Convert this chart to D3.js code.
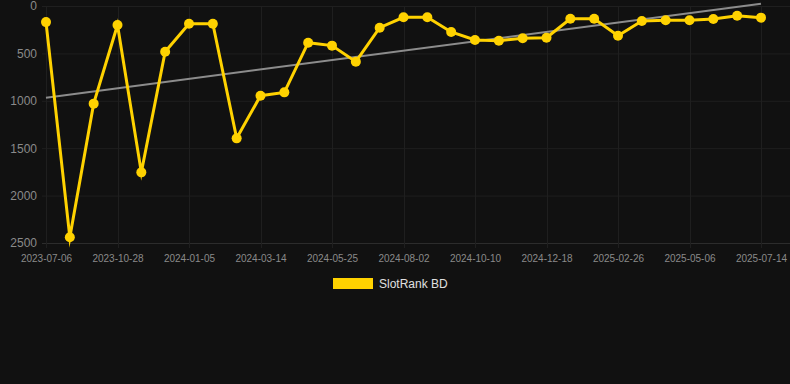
<!DOCTYPE html>
<html>
<head>
<meta charset="utf-8">
<script src="https://cdn.jsdelivr.net/npm/d3@7"></script>
<style>
    html, body { margin: 0; padding: 0; background: #111111; }
    svg { display: block; font-family: Arial, "Liberation Sans", sans-serif; }
</style>
</head>
<body>
<svg id="chart"></svg>
<script>
// Categories (every third one is labelled on the axis)
const dates = [
    '2023-07-06', '2023-08-13', '2023-09-20', '2023-10-28', '2023-11-20', '2023-12-13',
    '2024-01-05', '2024-01-28', '2024-02-20', '2024-03-14', '2024-04-07', '2024-05-01',
    '2024-05-25', '2024-06-17', '2024-07-10', '2024-08-02', '2024-08-25', '2024-09-17',
    '2024-10-10', '2024-11-02', '2024-11-25', '2024-12-18', '2025-01-10', '2025-02-03',
    '2025-02-26', '2025-03-21', '2025-04-13', '2025-05-06', '2025-05-29', '2025-06-21',
    '2025-07-14'
]

// SlotRank BD (rank, lower is better)
const rankValues = [
    170, 2440, 1030, 200, 1755, 482, 187, 187, 1396, 946,
    911, 387, 418, 587, 229, 119, 119, 274, 359, 366,
    341, 334, 134, 134, 313, 158, 151, 151, 137, 102,
    123
]

// Trend line, first and last value
const trendValues = [967, -24]

const yTicks = [0, 500, 1000, 1500, 2000, 2500]
const seriesName = 'SlotRank BD'

const fullWidth = 790
const fullHeight = 384
const margin = { top: 6, right: 29, bottom: 141, left: 46 }
const gridLeft = 42

const svg = d3.select('#chart')
    .attr('width', fullWidth)
    .attr('height', fullHeight)

svg.append('rect')
    .attr('width', fullWidth)
    .attr('height', fullHeight)
    .attr('fill', '#111111')

const xScale = d3.scalePoint()
    .domain(dates)
    .range([margin.left, fullWidth - margin.right])

const yScale = d3.scaleLinear()
    .domain([0, 2500])
    .range([margin.top, fullHeight - margin.bottom])

// Grid
const grid = svg.append('g').attr('class', 'grid')

grid.selectAll('.h-grid')
    .data(yTicks)
    .enter()
    .append('line')
        .attr('class', 'h-grid')
        .attr('x1', gridLeft)
        .attr('x2', fullWidth)
        .attr('y1', d => yScale(d) + 0.5)
        .attr('y2', d => yScale(d) + 0.5)
        .attr('stroke', d => d === 2500 ? '#2c2c2c' : '#1f1f1f')

const labelled = dates.filter((d, i) => i % 3 === 0)

grid.selectAll('.v-grid')
    .data(labelled)
    .enter()
    .append('line')
        .attr('class', 'v-grid')
        .attr('x1', d => Math.round(xScale(d)) + 0.5)
        .attr('x2', d => Math.round(xScale(d)) + 0.5)
        .attr('y1', margin.top)
        .attr('y2', yScale(2500) + 5)
        .attr('stroke', '#1f1f1f')

// Axes
const yAxis = d3.axisLeft(yScale)
    .tickValues(yTicks)
    .tickFormat(d3.format('d'))
    .tickSize(0)
    .tickPadding(0)

svg.append('g')
    .attr('class', 'y-axis')
    .attr('transform', `translate(37, 0)`)
    .call(yAxis)
    .call(g => g.select('.domain').remove())
    .call(g => g.selectAll('text')
        .attr('fill', '#8a8a8a')
        .style('font-size', '12px'))

const xAxis = d3.axisBottom(xScale)
    .tickValues(labelled)
    .tickSize(0)
    .tickPadding(0)

svg.append('g')
    .attr('class', 'x-axis')
    .attr('transform', `translate(0, ${yScale(2500) + 12})`)
    .call(xAxis)
    .call(g => g.select('.domain').remove())
    .call(g => g.selectAll('text')
        .attr('fill', '#8a8a8a')
        .style('font-size', '10px'))

// Trend line
svg.append('line')
    .attr('class', 'trend')
    .attr('x1', xScale(dates[0]))
    .attr('y1', yScale(trendValues[0]))
    .attr('x2', xScale(dates[dates.length - 1]))
    .attr('y2', yScale(trendValues[1]))
    .attr('stroke', '#8c8c8c')
    .attr('stroke-width', 2)

// Series
const line = d3.line()
    .x((d, i) => xScale(dates[i]))
    .y(d => yScale(d))

svg.append('path')
    .datum(rankValues)
    .attr('class', 'series')
    .attr('d', line)
    .attr('fill', 'none')
    .attr('stroke', '#ffd200')
    .attr('stroke-width', 3)
    .attr('stroke-linejoin', 'miter')
    .attr('stroke-miterlimit', 10)

svg.selectAll('.point')
    .data(rankValues)
    .enter()
    .append('circle')
        .attr('class', 'point')
        .attr('cx', (d, i) => xScale(dates[i]))
        .attr('cy', d => yScale(d))
        .attr('r', 5)
        .attr('fill', '#ffd200')

// Legend
const legend = svg.append('g')
    .attr('class', 'legend')
    .attr('transform', 'translate(333, 278)')

legend.append('rect')
    .attr('width', 40)
    .attr('height', 11)
    .attr('fill', '#ffd200')

legend.append('text')
    .attr('x', 46)
    .attr('y', 6)
    .attr('dy', '.35em')
    .attr('fill', '#e0e0e0')
    .style('font-size', '12px')
    .text(seriesName)
</script>
</body>
</html>
